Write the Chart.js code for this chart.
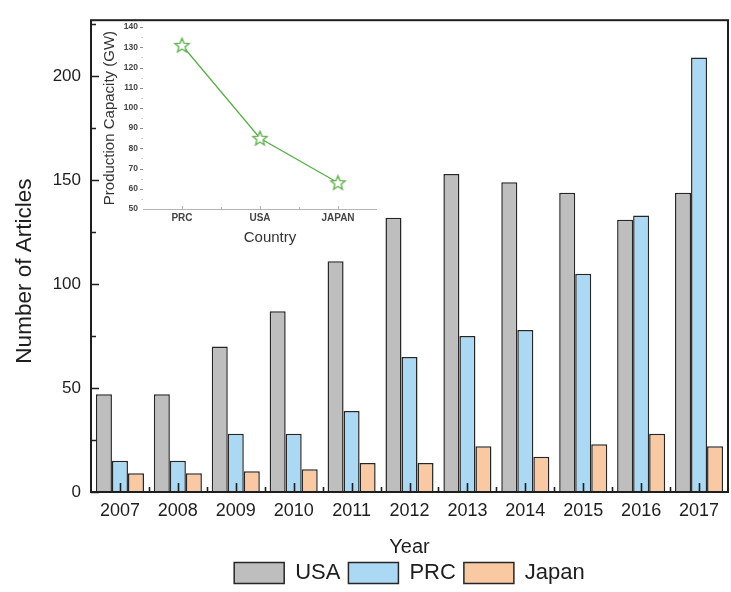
<!DOCTYPE html>
<html>
<head>
<meta charset="utf-8">
<script src="https://cdn.jsdelivr.net/npm/chart.js@4.4.1/dist/chart.umd.min.js"></script>
<style>
  html, body { margin: 0; padding: 0; background: #ffffff; }
  #wrap { position: relative; width: 731px; height: 592px; }
  #main { position: absolute; left: 0; top: 0; }
  #inset { position: absolute; left: 95px; top: 17px; }
</style>
</head>
<body>
<div id="wrap">
  <canvas id="main" width="731" height="592"></canvas>
  <canvas id="inset" width="300" height="235"></canvas>
</div>
<script>
// Publications per year by country
const years = ['2007', '2008', '2009', '2010', '2011', '2012', '2013', '2014', '2015', '2016', '2017'];
const usaArticles = [47, 47, 70, 87, 111, 132, 153, 149, 144, 131, 144];
const prcArticles = [15, 15, 28, 28, 39, 65, 75, 78, 105, 133, 209];
const japanArticles = [9, 9, 10, 11, 14, 14, 22, 17, 23, 28, 22];
const articleTicks = [0, 50, 100, 150, 200];
const articleMinorTicks = [25, 75, 125, 175, 225];

// Production capacity by country (inset)
const countries = ['PRC', 'USA', 'JAPAN'];
const capacityGW = [131, 85, 63];
const capacityTicks = [50, 60, 70, 80, 90, 100, 110, 120, 130, 140];
const capacityMinorTicks = [55, 65, 75, 85, 95, 105, 115, 125, 135];

const FONT = '"Liberation Sans", Arial, Helvetica, sans-serif';
const INK = '#1e1e1e';

// Axis captions placed relative to the chart area
function captions(list) {
  return {
    id: 'captions',
    afterDraw(chart) {
      const {ctx, chartArea: a} = chart;
      list.forEach(c => {
        ctx.save();
        ctx.translate(c.x(a), c.y(a));
        ctx.rotate(c.rotation || 0);
        ctx.font = c.font;
        ctx.fillStyle = c.color;
        ctx.textAlign = 'center';
        ctx.textBaseline = 'middle';
        ctx.fillText(c.text, 0, 0);
        ctx.restore();
      });
    }
  };
}

// Frame with inward-pointing major/minor ticks around the bar plot
const frameTicks = {
  id: 'frameTicks',
  afterDatasetsDraw(chart) {
    const {ctx, chartArea: a, scales: {x, y}} = chart;
    ctx.save();
    ctx.strokeStyle = INK;
    ctx.lineWidth = 1.6;
    ctx.beginPath();
    articleTicks.forEach(v => {
      const py = Math.round(y.getPixelForValue(v)) + 0.5;
      ctx.moveTo(a.left, py); ctx.lineTo(a.left + 8, py);
    });
    articleMinorTicks.forEach(v => {
      const py = Math.round(y.getPixelForValue(v)) + 0.5;
      ctx.moveTo(a.left, py); ctx.lineTo(a.left + 5, py);
    });
    years.forEach((_, i) => {
      const px = Math.round(x.getPixelForTick(i)) + 0.5;
      ctx.moveTo(px, a.bottom); ctx.lineTo(px, a.bottom - 9);
    });
    for (let i = 0; i < years.length - 1; i++) {
      const px = Math.round((x.getPixelForTick(i) + x.getPixelForTick(i + 1)) / 2) + 0.5;
      ctx.moveTo(px, a.bottom); ctx.lineTo(px, a.bottom - 5);
    }
    ctx.stroke();
    ctx.lineWidth = 2;
    ctx.strokeRect(a.left, a.top, a.right - a.left, a.bottom - a.top);
    ctx.restore();
  }
};

const barStyle = { borderColor: '#262626', borderWidth: 1.5, borderSkipped: 'bottom' };

new Chart(document.getElementById('main'), {
  type: 'bar',
  data: {
    labels: years,
    datasets: [
      Object.assign({ label: 'USA', data: usaArticles, backgroundColor: '#bebebe' }, barStyle),
      Object.assign({ label: 'PRC', data: prcArticles, backgroundColor: '#abd9f3' }, barStyle),
      Object.assign({ label: 'Japan', data: japanArticles, backgroundColor: '#f9c9a4' }, barStyle)
    ]
  },
  options: {
    responsive: false,
    animation: false,
    events: [],
    layout: { padding: { top: 17, right: 3, left: 0, bottom: 0 } },
    datasets: { bar: { categoryPercentage: 0.83, barPercentage: 1.0 } },
    plugins: {
      tooltip: { enabled: false },
      legend: {
        position: 'bottom',
        fullSize: false,
        maxHeight: 38,
        labels: {
          boxWidth: 50,
          boxHeight: 21,
          padding: 8,
          color: INK,
          font: { family: FONT, size: 22 }
        }
      }
    },
    scales: {
      x: {
        offset: true,
        grid: { display: false, drawTicks: false },
        border: { display: false },
        ticks: { color: INK, padding: 8, font: { family: FONT, size: 18 } },
        title: {
          display: true, text: 'Year', color: INK,
          font: { family: FONT, size: 20, lineHeight: 0.7 },
          padding: { top: 0, bottom: 0 }
        },
        afterFit(scale) { scale.height = 62; }
      },
      y: {
        min: 0,
        max: 227,
        grid: { display: false, drawTicks: false },
        border: { display: false },
        afterBuildTicks(scale) { scale.ticks = articleTicks.map(v => ({ value: v })); },
        ticks: { color: INK, padding: 10, font: { family: FONT, size: 17 } },
        afterFit(scale) { scale.width = 91; }
      }
    }
  },
  plugins: [frameTicks, captions([{
    text: 'Number of Articles',
    x: a => a.left - 66,
    y: a => (a.top + a.bottom) / 2 + 15,
    rotation: -Math.PI / 2,
    font: '22.5px ' + FONT,
    color: INK
  }])]
});

// Outlined five-point star used as the inset marker
function makeStar(outer, inner, color) {
  const size = Math.ceil(outer * 2 + 4);
  const c = document.createElement('canvas');
  c.width = size; c.height = size;
  const g = c.getContext('2d');
  g.translate(size / 2, size / 2 + 0.5);
  g.beginPath();
  for (let k = 0; k < 10; k++) {
    const r = k % 2 === 0 ? outer : inner;
    const ang = -Math.PI / 2 + k * Math.PI / 5;
    const px = r * Math.cos(ang), py = r * Math.sin(ang);
    if (k === 0) g.moveTo(px, py); else g.lineTo(px, py);
  }
  g.closePath();
  g.fillStyle = '#ffffff';
  g.fill();
  g.strokeStyle = color;
  g.lineWidth = 1.3;
  g.stroke();
  return c;
}

const GREEN = '#5aae48';
const star = makeStar(7.5, 3.3, GREEN);

// Light axis line and small ticks of the inset
const insetAxes = {
  id: 'insetAxes',
  beforeDatasetsDraw(chart) {
    const {ctx, chartArea: a, scales: {x, y}} = chart;
    ctx.save();
    ctx.strokeStyle = '#b4b4b4';
    ctx.lineWidth = 1;
    ctx.beginPath();
    ctx.moveTo(a.left, Math.round(a.bottom) + 0.5);
    ctx.lineTo(a.right, Math.round(a.bottom) + 0.5);
    countries.forEach((_, i) => {
      const px = Math.round(x.getPixelForTick(i)) + 0.5;
      ctx.moveTo(px, a.bottom); ctx.lineTo(px, a.bottom - 3);
    });
    for (let i = 0; i < countries.length - 1; i++) {
      const px = Math.round((x.getPixelForTick(i) + x.getPixelForTick(i + 1)) / 2) + 0.5;
      ctx.moveTo(px, a.bottom); ctx.lineTo(px, a.bottom - 2);
    }
    ctx.stroke();
    ctx.strokeStyle = '#8a8a8a';
    ctx.beginPath();
    capacityTicks.forEach(v => {
      if (v === capacityTicks[0]) return;
      const py = Math.round(y.getPixelForValue(v)) + 0.5;
      ctx.moveTo(a.left - 3, py); ctx.lineTo(a.left, py);
    });
    ctx.stroke();
    ctx.strokeStyle = '#c4c4c4';
    ctx.beginPath();
    capacityMinorTicks.forEach(v => {
      const py = Math.round(y.getPixelForValue(v)) + 0.5;
      ctx.moveTo(a.left - 1.5, py); ctx.lineTo(a.left, py);
    });
    ctx.stroke();
    ctx.restore();
  }
};

new Chart(document.getElementById('inset'), {
  type: 'line',
  data: {
    labels: countries,
    datasets: [{
      label: 'Production Capacity',
      data: capacityGW,
      borderColor: GREEN,
      borderWidth: 1.3,
      pointStyle: star,
      pointRadius: 7,
      tension: 0,
      fill: false
    }]
  },
  options: {
    responsive: false,
    animation: false,
    events: [],
    layout: { padding: { top: 10, right: 18, left: 0, bottom: 0 } },
    plugins: { legend: { display: false }, tooltip: { enabled: false } },
    scales: {
      x: {
        offset: true,
        grid: { display: false, drawTicks: false },
        border: { display: false },
        ticks: { color: '#444', padding: 3, font: { family: FONT, size: 10, weight: 'bold' } },
        afterFit(scale) { scale.height = 43; }
      },
      y: {
        min: 50,
        max: 140,
        grid: { display: false, drawTicks: false },
        border: { display: false },
        afterBuildTicks(scale) { scale.ticks = capacityTicks.map(v => ({ value: v })); },
        ticks: { color: '#444', padding: 5, font: { family: FONT, size: 8.5, weight: 'bold' } },
        title: {
          display: true, text: 'Production Capacity (GW)', color: '#333',
          font: { family: FONT, size: 15, lineHeight: 1.2 },
          padding: { top: 6, bottom: 0 }
        },
        afterFit(scale) { scale.width = 48; }
      }
    }
  },
  plugins: [insetAxes, captions([{
    text: 'Country',
    x: a => (a.left + a.right) / 2 + 10,
    y: a => a.bottom + 29,
    font: '15px ' + FONT,
    color: '#333'
  }])]
});
</script>
</body>
</html>
